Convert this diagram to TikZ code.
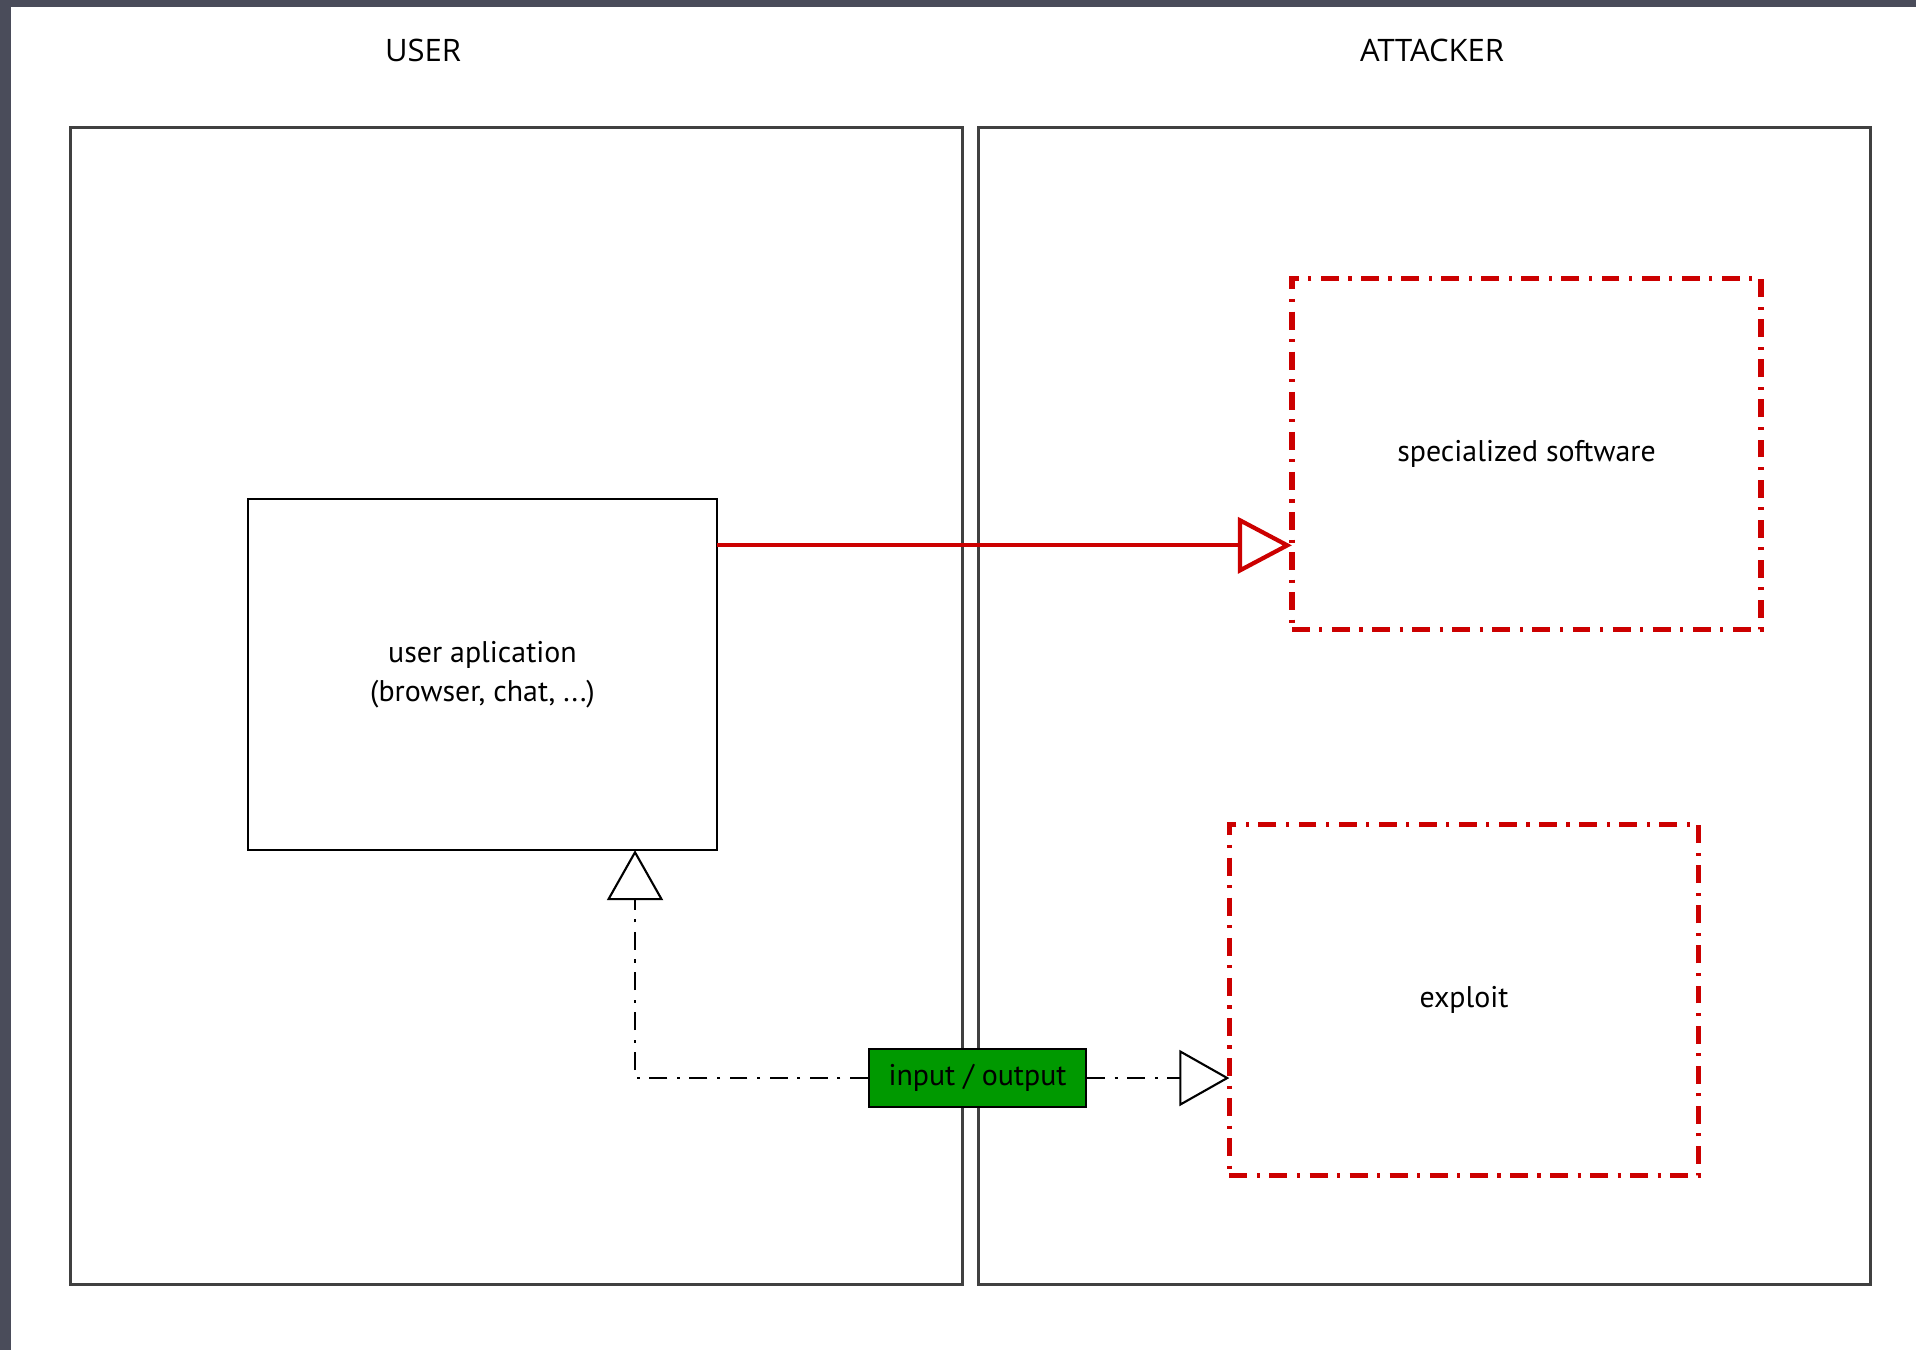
\documentclass[tikz,border=0pt]{standalone}
\usepackage{fontspec}
\setmainfont{Open Sans}
\newfontfamily\handfont{PT Sans}
\usetikzlibrary{arrows.meta,calc}
\definecolor{frame}{RGB}{74,76,90}
\definecolor{redline}{RGB}{204,0,0}
\definecolor{iogreen}{RGB}{0,153,0}

\begin{document}
\begin{tikzpicture}[x=0.01cm,y=-0.01cm,
  panel/.style={draw=black!75,line width=0.8pt,minimum width=8.91cm,minimum height=11.56cm,inner sep=0pt,outer sep=0pt},
  box/.style={draw,line width=0.7pt,minimum width=4.69cm,minimum height=3.51cm,inner sep=0pt,outer sep=0pt,align=center,font=\handfont\fontsize{8.5}{11}\selectfont},
  redbox/.style={box,draw=redline,line width=1.6pt,dash pattern=on 5.1pt off 2.7pt on 0.9pt off 2.7pt},
  ioline/.style={line width=0.6pt,dash pattern=on 5.1pt off 2.7pt on 0.9pt off 2.7pt,-{Triangle[open,length=0.5cm,width=0.56cm,line width=0.6pt]}},
  title/.style={font=\fontsize{8.8}{10}\selectfont}]
\fill[frame](0,0)rectangle(1916,1350);
\fill[white](11,7)rectangle(1916,1350);
\useasboundingbox(0,0)rectangle(1916,1350);
\node[title](usr)at(423,50){USER};
\node[title](att)at(1432,50){ATTACKER};
\node[panel](userside)at(516.5,706){};
\node[panel](attside)at(1424.5,706){};
\node[box](app)at(482.5,674.5){user aplication\\(browser, chat, ...)};
\node[redbox](soft)at(1526.5,454){specialized software};
\node[redbox](expl)at(1464,1000){exploit};
\node[draw,fill=iogreen,line width=0.7pt,minimum width=2.17cm,minimum height=0.58cm,inner sep=0pt,
  font=\handfont\fontsize{8.5}{10}\selectfont](io)at(977.5,1078){input / output};
\coordinate(rtip)at($(soft.north west)!0.76!(soft.south west)$);
\coordinate(ltip)at($(app.south west)!0.825!(app.south east)$);
\draw[redline,line width=1.1pt,-{Triangle[open,length=0.54cm,width=0.56cm,line width=1.2pt]}](app.east |- rtip)--(rtip);
\draw[ioline](io.west)-|(ltip);
\draw[ioline](io.east)--(expl.west |- io.east);
\end{tikzpicture}
\end{document}
